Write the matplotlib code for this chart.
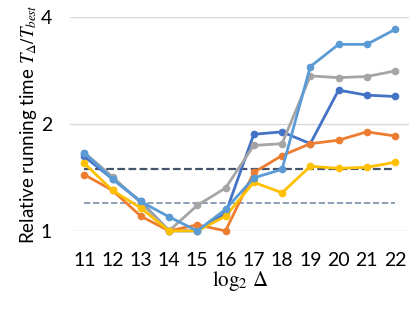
import matplotlib
matplotlib.use("Agg")
import matplotlib.pyplot as plt
from matplotlib.ticker import FixedLocator, NullLocator

plt.rcParams["font.family"] = ["Lato", "DejaVu Sans"]
plt.rcParams["mathtext.fontset"] = "stix"

# log2 of Delta
x = [11, 12, 13, 14, 15, 16, 17, 18, 19, 20, 21, 22]

# relative running time series (Office palette order)
s_blue   = [1.62, 1.40, 1.21, 1.00, 1.00, 1.12, 1.87, 1.90, 1.76, 2.49, 2.41, 2.39]
s_orange = [1.44, 1.30, 1.10, 1.00, 1.04, 1.00, 1.46, 1.63, 1.76, 1.80, 1.90, 1.85]
s_gray   = [1.66, 1.42, 1.20, 1.00, 1.18, 1.32, 1.74, 1.76, 2.73, 2.70, 2.72, 2.82]
s_yellow = [1.55, 1.30, 1.16, 1.00, 1.00, 1.10, 1.37, 1.28, 1.52, 1.50, 1.51, 1.56]
s_light  = [1.66, 1.40, 1.21, 1.095, 1.00, 1.15, 1.41, 1.49, 2.90, 3.35, 3.35, 3.69]

ref_dark = 1.49
ref_light = 1.20

series = [s_blue, s_orange, s_gray, s_yellow, s_light]
colors = ["#4472C4", "#ED7D31", "#A5A5A5", "#FFC000", "#5B9BD5"]

fig = plt.figure(figsize=(4.15, 3.12), dpi=100)
ax = fig.add_axes([0.169, 0.26, 0.817, 0.6855])

for yy in [1, 2, 4]:
    ax.axhline(yy, color="#D9D9D9", lw=1.0, zorder=0)

ax.plot([x[0], x[-1]], [ref_dark, ref_dark], color="#44546A", lw=1.6,
        ls=(0, (3.5, 1.5)), zorder=1)
ax.plot([x[0], x[-1]], [ref_light, ref_light], color="#8497B0", lw=1.3,
        ls=(0, (3.5, 1.5)), zorder=1)

for s, c in zip(series, colors):
    ax.plot(x, s, color=c, lw=2.0, marker="o", ms=4.5, clip_on=False, zorder=3)

ax.set_yscale("log", base=2)
ax.set_ylim(1, 4)
ax.set_xlim(10.5, 22.5)
ax.yaxis.set_major_locator(FixedLocator([1, 2, 4]))
ax.yaxis.set_minor_locator(NullLocator())
ax.set_yticklabels(["1", "2", "4"])
ax.set_xticks(x)
ax.set_xticklabels([str(v) for v in x])
ax.tick_params(length=0, labelsize=14)
ax.tick_params(axis="x", pad=15)
ax.tick_params(axis="y", pad=13)
for sp in ax.spines.values():
    sp.set_visible(False)

ax.set_xlabel(r"$\log_2\,\Delta$", fontsize=15, labelpad=0)
ax.set_ylabel(r"Relative running time $T_\Delta/T_{best}$", fontsize=13.5, labelpad=1)

fig.savefig("out.png", dpi=100)
